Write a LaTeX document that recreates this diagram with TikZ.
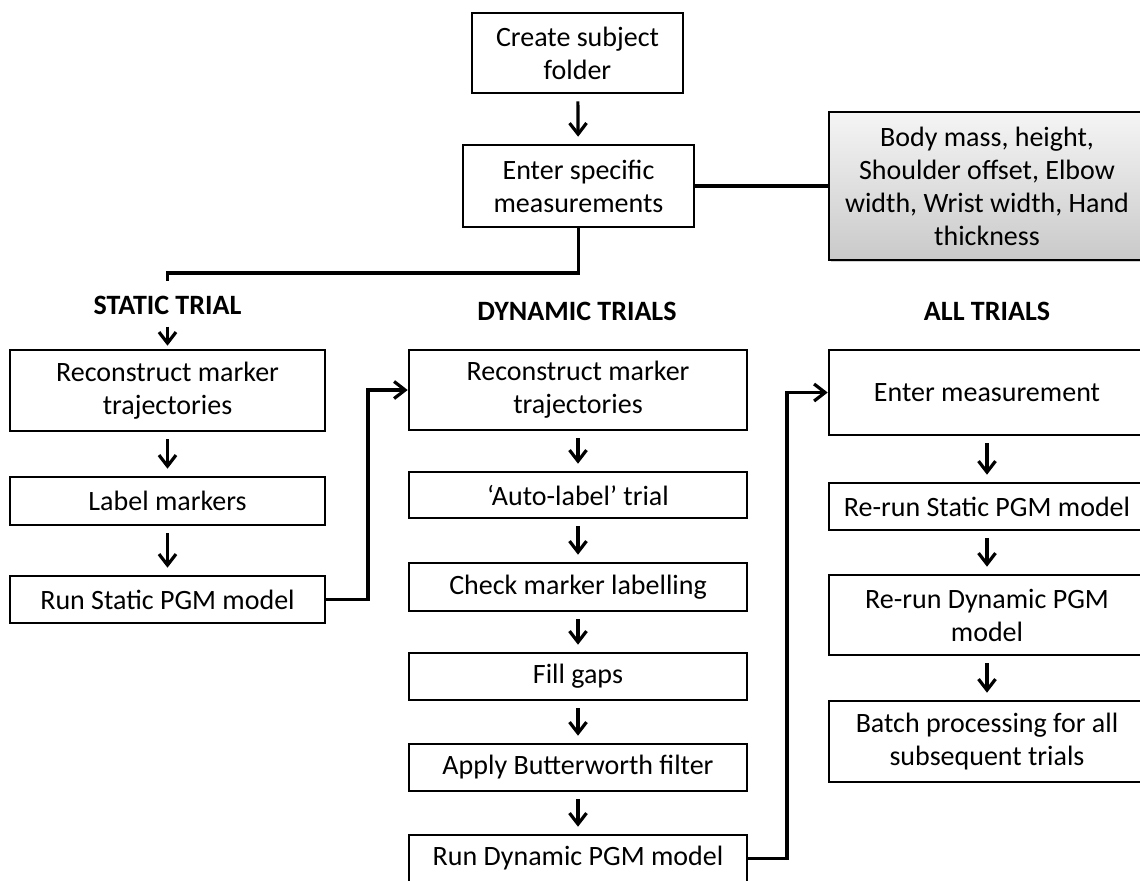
\documentclass[tikz,border=0pt]{standalone}
\usepackage{fontspec}
\setmainfont{Carlito}
\usepackage{tikz}
\usetikzlibrary{arrows.meta, shadows}

\begin{document}
\begin{tikzpicture}[x=0.5pt, y=-0.5pt,
  font=\fontsize{14}{16.5}\selectfont,
  box/.style={draw, line width=1.3pt, inner sep=0pt, align=center, fill=white},
  scol/.style={box, minimum width=157.5pt},
  dcol/.style={box, minimum width=169pt},
  acol/.style={box, minimum width=158pt},
  greybox/.style={box, top color=gray!8, bottom color=gray!42,
    drop shadow={shadow xshift=1pt, shadow yshift=-1pt, opacity=0.35}},
  head/.style={font=\fontsize{14}{16.5}\selectfont\bfseries, inner sep=0pt},
  line/.style={line width=1.6pt},
  arr/.style={line, -{Straight Barb[length=5.5pt, width=8.5pt]}, shorten <=3.5pt, shorten >=3.5pt}
]
\clip (0,0) rectangle (1140,880);
\fill[white] (0,0) rectangle (1140,880);

% top of the chart
\node[box, minimum width=105.5pt, minimum height=40pt] (create) at (577.5,53) {Create subject\\folder};
\node[box, minimum width=115.5pt, minimum height=41pt] (enter) at (578.5,186) {Enter specific\\measurements};
\node[greybox, minimum width=158pt, minimum height=74pt] (body) at (987,186) {Body mass, height,\\Shoulder offset, Elbow\\width, Wrist width, Hand\\thickness};

% column headings
\node[head] (shead) at (167.5,305) {STATIC TRIAL};
\node[head] (dhead) at (577,311) {DYNAMIC TRIALS};
\node[head] (ahead) at (987,311) {ALL TRIALS};

% static trial
\node[scol, minimum height=40.5pt] (srec) at (167.5,390.5) {Reconstruct marker\\trajectories};
\node[scol, minimum height=24pt] (slabel) at (167.5,501) {Label markers};
\node[scol, minimum height=23.5pt] (srun) at (167.5,599.5) {Run Static PGM model};

% dynamic trials
\node[dcol, minimum height=40pt] (drec) at (578,390) {Reconstruct marker\\trajectories};
\node[dcol, minimum height=23pt] (dauto) at (578,495) {`Auto-label' trial};
\node[dcol, minimum height=24pt] (dcheck) at (578,587) {Check marker labelling};
\node[dcol, minimum height=23.5pt] (dfill) at (578,676.5) {Fill gaps};
\node[dcol, minimum height=23.5pt] (dbutter) at (578,767.5) {Apply Butterworth filter};
\node[dcol, minimum height=23.5pt] (drun) at (578,858.5) {Run Dynamic PGM model};

% all trials
\node[acol, minimum height=42.5pt] (amea) at (987,392.5) {Enter measurement};
\node[acol, minimum height=23.5pt] (arstat) at (987,506.5) {Re-run Static PGM model};
\node[acol, minimum height=40pt] (ardyn) at (987,615) {Re-run Dynamic PGM\\model};
\node[acol, minimum height=40.5pt] (abatch) at (987,741.5) {Batch processing for all\\subsequent trials};

\coordinate (split) at (167.5,273);
\coordinate (stub) at (167.5,281);
\coordinate (bendA) at (368,0);
\coordinate (bendB) at (787,0);

\draw[arr] (create) -- (enter);
\draw[line] (enter) -- (body);
\draw[line] (enter.south) |- (split) -- (stub);
\draw[arr, shorten <=6pt, shorten >=1.5pt] (shead) -- (srec);

\draw[arr] (srec) -- (slabel);
\draw[arr] (slabel) -- (srun);
\draw[arr, shorten <=0pt, shorten >=0pt] (srun.east) -- (srun.east -| bendA) |- (drec.west);

\draw[arr] (drec) -- (dauto);
\draw[arr] (dauto) -- (dcheck);
\draw[arr] (dcheck) -- (dfill);
\draw[arr] (dfill) -- (dbutter);
\draw[arr] (dbutter) -- (drun);
\draw[arr, shorten <=0pt, shorten >=0pt] (drun.east) -- (drun.east -| bendB) |- (amea.west);

\draw[arr] (amea) -- (arstat);
\draw[arr] (arstat) -- (ardyn);
\draw[arr] (ardyn) -- (abatch);
\end{tikzpicture}
\end{document}
